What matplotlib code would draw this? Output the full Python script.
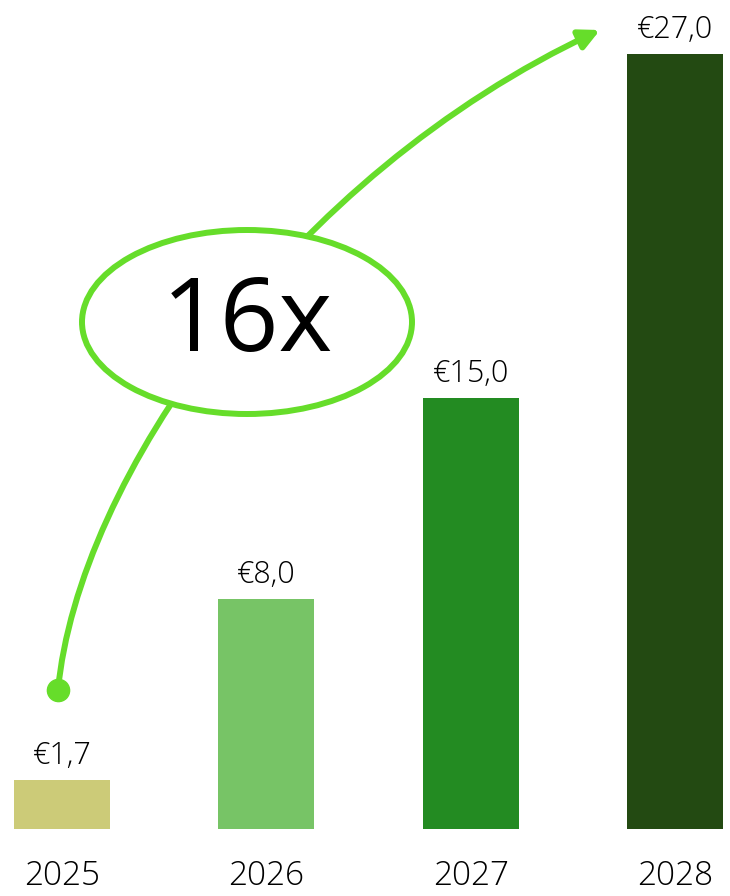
import matplotlib.pyplot as plt
from matplotlib.patches import Ellipse, FancyArrowPatch
from matplotlib.path import Path
import numpy as np

plt.rcParams['font.family'] = ['Open Sans', 'DejaVu Sans']

anos = ['2025', '2026', '2027', '2028']
valores = [1.7, 8.0, 15.0, 27.0]
rotulos = ['€1,7', '€8,0', '€15,0', '€27,0']
cores = ['#CCCB78', '#77C466', '#238B22', '#234A12']
verde = '#66DD2A'

W, H = 730, 896
fig = plt.figure(figsize=(W / 100, H / 100), dpi=100)
ax = fig.add_axes([0, 1 - 829 / H, 1, 829 / H])

x = np.arange(len(anos))
ax.bar(x, valores, width=0.47, color=cores)
ax.set_xlim(-0.303, 3.269)
ax.set_ylim(0, 829 / 28.7)

for xi, v, r in zip(x, valores, rotulos):
    ax.annotate(r, (xi, v), xytext=(0, 6), textcoords='offset points',
                ha='center', va='bottom', fontsize=22, fontweight='light')
for xi, a in zip(x, anos):
    ax.annotate(a, (xi, 0), xytext=(0, -34), textcoords='offset points',
                ha='center', va='center', fontsize=24, fontweight='light')
ax.axis('off')

# camada por cima, em pixels (origem no topo)
ax2 = fig.add_axes([0, 0, 1, 1], facecolor='none')
ax2.set_xlim(0, W)
ax2.set_ylim(H, 0)
ax2.axis('off')

pts = [(58, 690), (78, 480), (290, 175), (600, 30)]
caminho = Path(pts, [Path.MOVETO, Path.CURVE4, Path.CURVE4, Path.CURVE4])
seta = FancyArrowPatch(path=caminho, transform=ax2.transData,
                       arrowstyle='-|>,head_length=12,head_width=6',
                       color=verde, lw=4.3, zorder=3)
ax2.add_patch(seta)
ax2.plot([58], [690], 'o', color=verde, ms=16, zorder=4)
ax2.add_patch(Ellipse((247, 322), 330, 184, facecolor='white',
                      edgecolor=verde, lw=4.3, zorder=5))
ax2.text(247, 325, '16x', ha='center', va='center', fontsize=74,
         zorder=6)

fig.savefig('out.png', dpi=100)
